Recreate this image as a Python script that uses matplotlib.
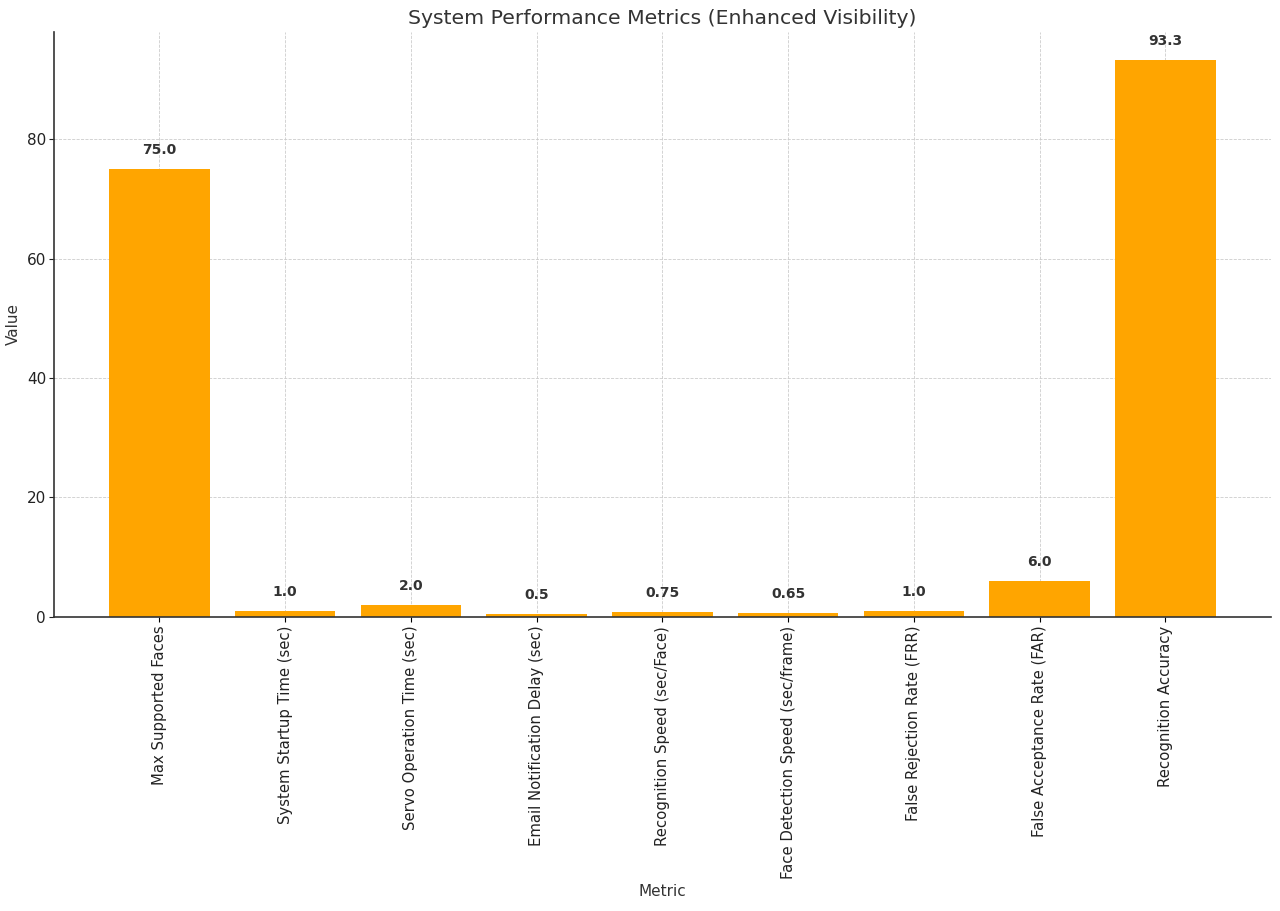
import matplotlib
matplotlib.use("Agg")
import matplotlib.pyplot as plt

categories = ["Max Supported Faces", "System Startup Time (sec)", "Servo Operation Time (sec)",
              "Email Notification Delay (sec)", "Recognition Speed (sec/Face)",
              "Face Detection Speed (sec/frame)", "False Rejection Rate (FRR)",
              "False Acceptance Rate (FAR)", "Recognition Accuracy"]
values = [75.0, 1.0, 2.0, 0.5, 0.75, 0.65, 1.0, 6.0, 93.3]
value_labels = ["75.0", "1.0", "2.0", "0.5", "0.75", "0.65", "1.0", "6.0", "93.3"]

fig, ax = plt.subplots(figsize=(12.8, 9.11), dpi=100)
fig.subplots_adjust(left=0.042, right=0.993, top=0.965, bottom=0.323)
x = range(len(categories))
bars = ax.bar(x, values, color="#FFA500", width=0.8, zorder=2)
for b, lab in zip(bars, value_labels):
    ax.text(b.get_x() + b.get_width() / 2, b.get_height() + 2, lab,
            ha="center", va="bottom", fontsize=10, fontweight="bold", color="#333333")
ax.set_xticks(list(x))
ax.set_xticklabels(categories, rotation=90, fontsize=10.7, color="#222222")
ax.tick_params(axis="y", labelsize=11, colors="#222222", pad=2)
ax.tick_params(axis="x", pad=3)
ax.set_title("System Performance Metrics (Enhanced Visibility)", fontsize=14.7, color="#333333")
ax.set_xlabel("Metric", fontsize=11, color="#333333")
ax.set_ylabel("Value", fontsize=11, color="#333333")
ax.grid(True, linestyle="--", linewidth=0.6, color="#cccccc", zorder=0)
ax.set_axisbelow(True)
ax.spines["top"].set_visible(False)
ax.spines["right"].set_visible(False)
ax.spines["left"].set_color("#333333")
ax.spines["bottom"].set_color("#333333")
ax.spines["left"].set_linewidth(1.2)
ax.spines["bottom"].set_linewidth(1.2)
fig.savefig("out.png", dpi=100)
